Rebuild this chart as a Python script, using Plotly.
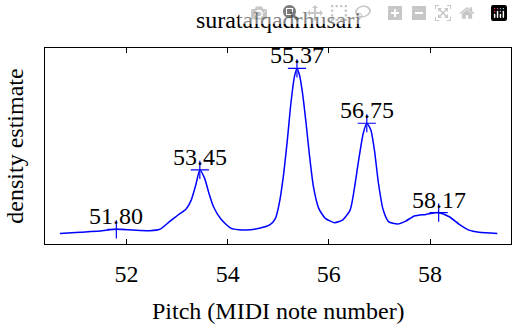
import plotly.graph_objects as go

title_text = "suratalqadrhusari"
x_label = "Pitch (MIDI note number)"
y_label = "density estimate"

pitch = [50.685, 51.08, 51.474, 51.80, 52.13, 52.46, 52.66, 52.85, 53.02, 53.18,
         53.28, 53.37, 53.45, 53.545, 53.63, 53.72, 53.87, 54.07, 54.37, 54.63,
         54.83, 54.945, 55.02, 55.10, 55.18, 55.25, 55.32, 55.37, 55.42, 55.485,
         55.55, 55.62, 55.695, 55.80, 55.93, 56.11, 56.27, 56.42, 56.50, 56.59,
         56.68, 56.75, 56.83, 56.90, 56.98, 57.075, 57.18, 57.36, 57.52, 57.69,
         57.92, 58.17, 58.38, 58.57, 58.77, 58.97, 59.33]
density = [0.054, 0.060, 0.066, 0.075, 0.071, 0.068, 0.075, 0.114, 0.148, 0.179,
           0.224, 0.301, 0.378, 0.335, 0.259, 0.190, 0.126, 0.080, 0.071, 0.080,
           0.097, 0.131, 0.207, 0.344, 0.531, 0.718, 0.854, 0.896, 0.862, 0.760,
           0.616, 0.446, 0.293, 0.182, 0.131, 0.109, 0.122, 0.173, 0.276, 0.429,
           0.565, 0.616, 0.582, 0.480, 0.310, 0.173, 0.114, 0.102, 0.117, 0.143,
           0.151, 0.160, 0.139, 0.102, 0.071, 0.060, 0.054]

peak_pitch = [51.80, 53.45, 55.37, 56.75, 58.17]
peak_density = [0.075, 0.378, 0.896, 0.616, 0.160]
peak_labels = ["51.80", "53.45", "55.37", "56.75", "58.17"]

x_ticks = [52, 54, 56, 58]

FONT = "Liberation Serif, Times New Roman, serif"
FS = 24
BLUE = "#0000FF"

fig = go.Figure()
fig.add_trace(go.Scatter(x=pitch, y=density, mode="lines",
                         line=dict(color=BLUE, width=1.5, shape="spline", smoothing=0.6),
                         hoverinfo="skip", showlegend=False))
fig.add_trace(go.Scatter(x=peak_pitch, y=peak_density, mode="markers",
                         marker=dict(symbol="cross-thin", size=13,
                                     line=dict(color=BLUE, width=1.2)),
                         showlegend=False))

for px, py, lab in zip(peak_pitch, peak_density, peak_labels):
    fig.add_annotation(x=px, y=py, text=lab, showarrow=False,
                       xanchor="center", yanchor="bottom", yshift=-2,
                       font=dict(family=FONT, size=FS, color="black"))

# x-axis title placed as a paper annotation (centre ~311 px from top)
fig.add_annotation(x=0.5, y=-(311 - 244) / 196, xref="paper", yref="paper",
                   text=x_label, showarrow=False, xanchor="center", yanchor="middle",
                   font=dict(family=FONT, size=FS, color="black"))

fig.update_layout(
    width=513, height=327,
    margin=dict(l=45, r=2, t=48, b=83),
    paper_bgcolor="white", plot_bgcolor="white",
    font=dict(family=FONT, size=FS, color="black"),
    title=dict(text=title_text, x=0.543, xanchor="center",
               y=1 - 20 / 327, yanchor="middle", yref="container",
               font=dict(family=FONT, size=FS, color="black")),
)
fig.update_xaxes(range=[50.39, 59.6], tickvals=x_ticks, ticktext=[str(t) for t in x_ticks],
                 ticks="inside", ticklen=5, tickcolor="black", tickwidth=1,
                 showline=True, linecolor="black", linewidth=1, mirror="ticks",
                 showgrid=False, zeroline=False, ticklabelstandoff=8, automargin=False,
                 tickfont=dict(family=FONT, size=FS, color="black"))
fig.update_yaxes(range=[0, 1], showticklabels=False, ticks="", automargin=False,
                 showline=True, linecolor="black", linewidth=1, mirror=True,
                 showgrid=False, zeroline=False,
                 title=dict(text=y_label, standoff=13, font=dict(family=FONT, size=FS, color="black")))

fig.write_html("out.html", post_script="document.body.style.margin='0px';")
